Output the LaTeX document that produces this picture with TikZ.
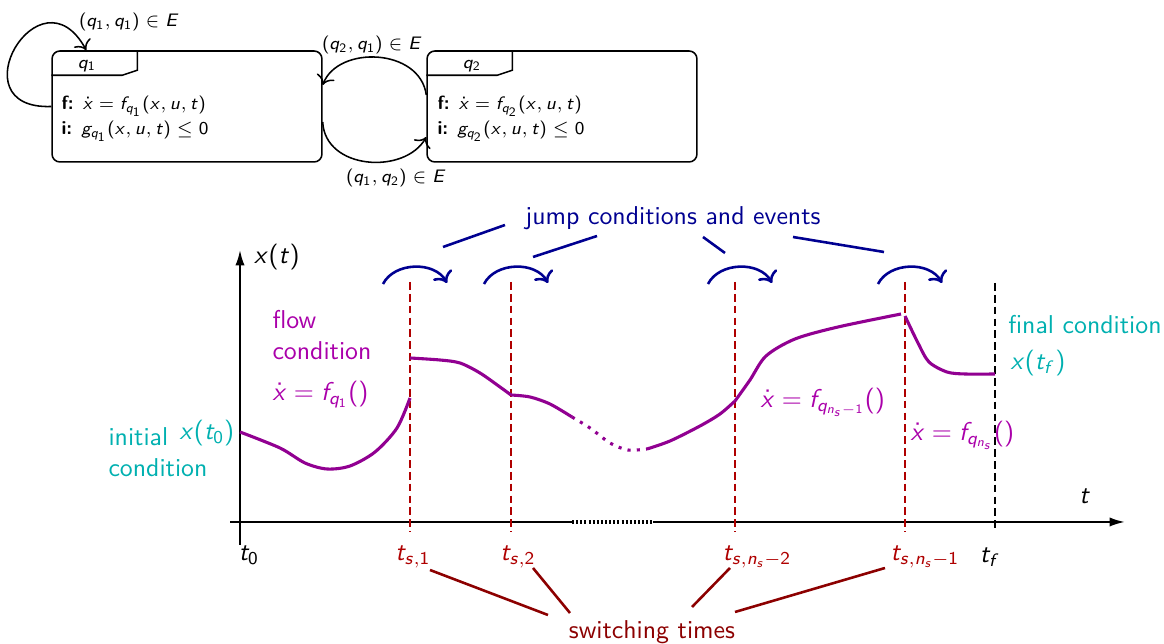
\documentclass[tikz,border=0pt]{standalone}
\usetikzlibrary{arrows.meta,calc}
\renewcommand{\familydefault}{\sfdefault}
\DeclareSymbolFont{sfit}{OT1}{cmss}{m}{sl}
\SetSymbolFont{operators}{normal}{OT1}{cmss}{m}{n}
\newcount\mycnt
\mycnt=`a
\loop
 \mathcode\mycnt=\numexpr 28672+\symsfit*256+\mycnt\relax
 \advance\mycnt by 1
\ifnum\mycnt<123 \repeat
\mycnt=`A
\loop
 \mathcode\mycnt=\numexpr 28672+\symsfit*256+\mycnt\relax
 \advance\mycnt by 1
\ifnum\mycnt<91 \repeat
\definecolor{myteal}{RGB}{0,176,176}
\definecolor{mycurve}{RGB}{145,0,145}
\definecolor{mylabpurple}{RGB}{170,0,170}
\definecolor{mynavy}{RGB}{0,0,145}
\definecolor{myred}{RGB}{175,0,0}
\definecolor{mydarkred}{RGB}{140,0,0}
\begin{document}
\begin{tikzpicture}[x=0.3876pt,y=-0.3876pt,
  statebox/.style={draw, rounded corners=3pt, minimum width=104.6pt, minimum height=43pt, inner sep=0pt, line width=0.6pt},
  smallfont/.style={font=\fontsize{7.4}{9.7}\selectfont},
  edgeline/.style={line width=0.6pt, -{To[length=3.5pt]}},
  axisline/.style={line width=0.8pt},
  swline/.style={myred, line width=0.6pt, dash pattern=on 3pt off 1.6pt},
  curveline/.style={mycurve, line width=1.2pt},
  jumparc/.style={mynavy, line width=1pt, -{To[length=4pt]}},
  navyline/.style={mynavy, line width=1pt},
  redline/.style={mydarkred, line width=1pt},
  tealtext/.style={text=myteal, inner sep=0pt},
  purpletext/.style={text=mylabpurple, inner sep=0pt}
]
\useasboundingbox (0,0) rectangle (1164,644);

% ---------------- top automaton ----------------
\node[statebox] (b1) at (187,106.5) {};
\node[statebox] (b2) at (562,106.5) {};
\draw[line width=0.6pt] ($(b1.north west)+(0,25)$) -- ++(71,0) -- ++(15,-5) -- ($(b1.north west)+(86,0)$);
\draw[line width=0.6pt] ($(b2.north west)+(0,25)$) -- ++(71,0) -- ++(15,-5) -- ($(b2.north west)+(86,0)$);
\node[smallfont, inner sep=0pt] (q1lab) at (87,66) {$q_1$};
\node[smallfont, inner sep=0pt] (q2lab) at (472,66) {$q_2$};
\node[smallfont, anchor=west, align=left, inner sep=0pt] (b1txt) at (61,119)
  {\textbf{f:} $\dot x = f_{q_1}(x,u,t)$\\ \textbf{i:} $g_{q_1}(x,u,t) \le 0$};
\node[smallfont, anchor=west, align=left, inner sep=0pt] (b2txt) at (437,119)
  {\textbf{f:} $\dot x = f_{q_2}(x,u,t)$\\ \textbf{i:} $g_{q_2}(x,u,t) \le 0$};

\coordinate (loopend) at ($(b1.north west)+(35,0)$);
\draw[edgeline] (b1.west) .. controls (-45,110) and (40,-35) .. (loopend);
\coordinate (a21s) at ($(b2.west)+(0,-11.5)$);
\coordinate (a21e) at ($(b1.east)+(0,-21.5)$);
\draw[edgeline] (a21s) .. controls (420,48) and (338,45) .. (a21e);
\coordinate (a12s) at ($(b1.east)+(0,15.5)$);
\coordinate (a12e) at ($(b2.west)+(0,30.5)$);
\draw[edgeline] (a12s) .. controls (325,170) and (405,175) .. (a12e);
\node[smallfont] (e11) at (129,22) {$(q_1,q_1)\in E$};
\node[smallfont] (e21) at (372,45) {$(q_2,q_1)\in E$};
\node[smallfont] (e12) at (396,178) {$(q_1,q_2)\in E$};

% ---------------- axes ----------------
\coordinate (ybot) at (240,545);
\coordinate (ytop) at (240,250);
\draw[axisline,-{Latex[length=6pt,width=3.6pt]}] (ybot) -- (ytop);
\coordinate (xl) at (230,522);
\coordinate (xd1) at (572,522);
\coordinate (xd2) at (653,522);
\coordinate (xr) at (1125,522);
\draw[axisline] (xl) -- (xd1);
\draw[line width=1.2pt, dash pattern=on 0.8pt off 0.8pt] (xd1) -- (xd2);
\draw[axisline,-{Latex[length=6pt,width=3.6pt]}] (xd2) -- (xr);
\node (xtlab) at (277,257) {$x(t)$};
\node (tlab) at (1085,496) {$t$};

% switching lines
\foreach \n/\xx in {s1/410, s2/511, s3/735, s4/905}{
  \coordinate (\n top) at (\xx,282);
  \coordinate (\n bot) at (\xx,532);
  \draw[swline] (\n top) -- (\n bot);
}
\coordinate (tftop) at (995,283);
\coordinate (tfbot) at (995,532);
\draw[line width=0.6pt, dash pattern=on 3pt off 1.6pt] (tftop) -- (tfbot);

% time labels
\node (t0) at (249,555) {$t_0$};
\node[text=myred] (ts1) at (413,557) {$t_{s,1}$};
\node[text=myred] (ts2) at (518,557) {$t_{s,2}$};
\node[text=myred] (ts3) at (757,557) {$t_{s,n_s-2}$};
\node[text=myred] (ts4) at (925,557) {$t_{s,n_s-1}$};
\node (tf) at (990,557) {$t_f$};

\node[text=mydarkred] (swt) at (652,632) {switching times};
\coordinate (w1a) at (548,615); \coordinate (w1b) at (430,570);
\coordinate (w2a) at (570,613); \coordinate (w2b) at (533,568);
\coordinate (w3a) at (692,607); \coordinate (w3b) at (730,568);
\coordinate (w4a) at (735,612); \coordinate (w4b) at (885,568);
\draw[redline] (w1a) -- (w1b);
\draw[redline] (w2a) -- (w2b);
\draw[redline] (w3a) -- (w3b);
\draw[redline] (w4a) -- (w4b);

% jump arcs
\foreach \n/\xx in {j1/410, j2/511, j3/735, j4/905}{
  \coordinate (\n a) at (\xx-27,284);
  \coordinate (\n b) at (\xx+37,283);
  \draw[jumparc] (\n a) to[bend left=62] (\n b);
}
\node[text=mynavy] (jce) at (673,218) {jump conditions and events};
\coordinate (k1a) at (505,225); \coordinate (k1b) at (443,247);
\coordinate (k2a) at (597,236); \coordinate (k2b) at (533,257);
\coordinate (k3a) at (703,237); \coordinate (k3b) at (725,253);
\coordinate (k4a) at (793,237); \coordinate (k4b) at (884,252);
\draw[navyline] (k1a) -- (k1b);
\draw[navyline] (k2a) -- (k2b);
\draw[navyline] (k3a) -- (k3b);
\draw[navyline] (k4a) -- (k4b);

% trajectory
\draw[curveline] plot[smooth] coordinates {(240,432) (280,448) (305,463) (327,469) (350,466) (375,452) (397,428) (410,398)};
\draw[curveline] plot[smooth] coordinates {(410,358) (440,360) (460,363) (480,373) (500,387) (511,395)};
\draw[curveline] plot[smooth] coordinates {(511,395) (530,397) (550,404) (572,417)};
\draw[curveline, dash pattern=on 1.2pt off 2.4pt] plot[smooth] coordinates {(572,417) (590,428) (610,443) (628,450) (647,449)};
\draw[curveline] plot[smooth] coordinates {(647,449) (670,441) (700,426) (720,414) (735,401)};
\draw[curveline] plot[smooth] coordinates {(735,401) (750,380) (766,356) (795,339) (838,327) (901,314)};
\draw[curveline] plot[smooth] coordinates {(905,316) (918,343) (929,362) (947,372) (965,374) (995,374)};

% condition labels
\node[tealtext, anchor=west, align=left] (init) at (108,452) {initial\\condition};
\node[tealtext] (x0) at (207,433) {$x(t_0)$};
\node[tealtext] (fin) at (1085,325) {final condition};
\node[tealtext, anchor=west] (xfl) at (1010,363) {$x(t_f)$};

\node[purpletext, anchor=west] (flow1) at (272,320) {flow};
\node[purpletext, anchor=west] (flow2) at (272,351) {condition};
\node[purpletext, anchor=west] (fq1) at (272,395) {$\dot x = f_{q_1}()$};
\node[purpletext, anchor=west] (fqn1) at (760,402) {$\dot x = f_{q_{n_s-1}}()$};
\node[purpletext, anchor=west] (fqn) at (910,435) {$\dot x = f_{q_{n_s}}()$};
\end{tikzpicture}
\end{document}
